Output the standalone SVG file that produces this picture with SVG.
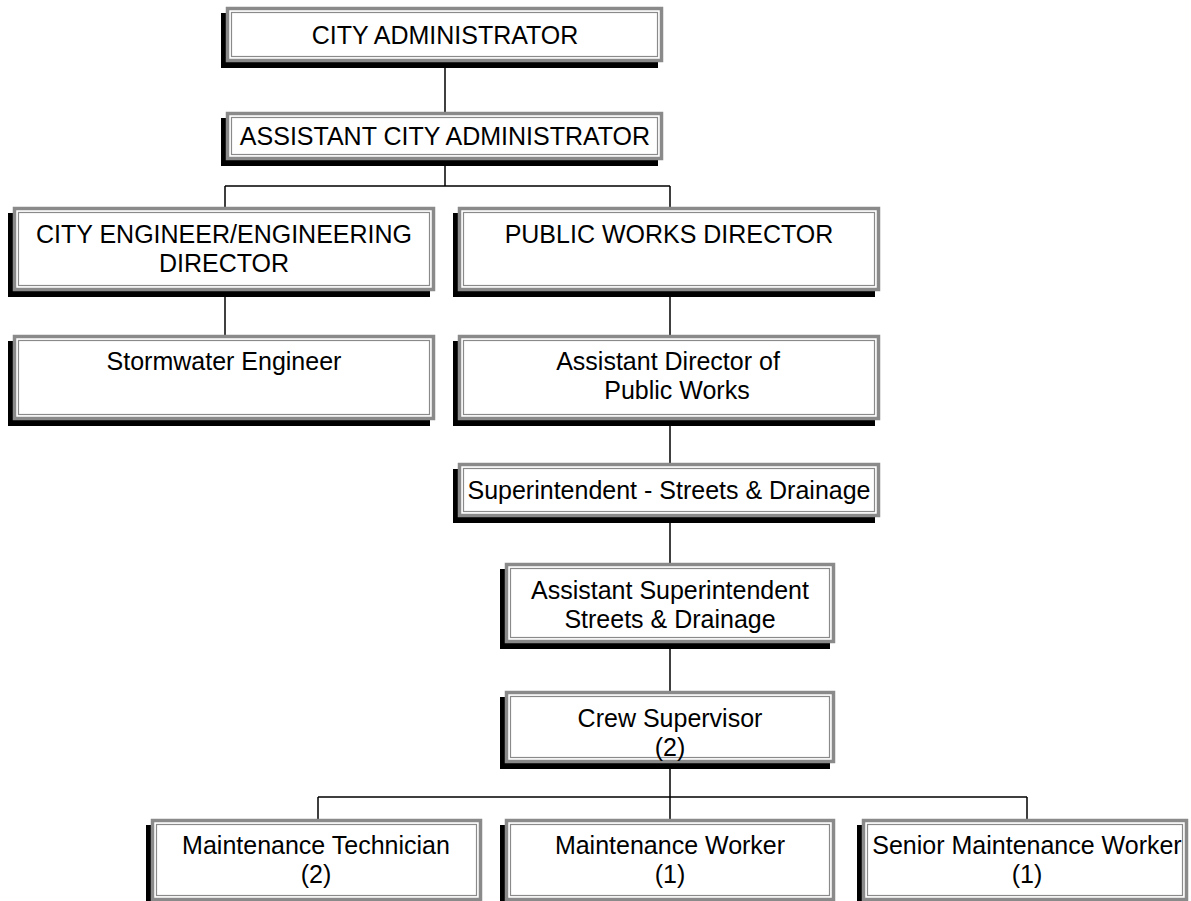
<svg xmlns="http://www.w3.org/2000/svg" width="1191" height="901" viewBox="0 0 1191 901">
  <defs>
    <style>
      .shadow { fill: #000000; }
      .frame { fill: #ffffff; stroke: #8a8a8a; stroke-width: 3.5; }
      .inner { fill: none; stroke: #8a8a8a; stroke-width: 1.2; }
      .label { font-family: "Liberation Sans", Arial, sans-serif; font-size: 25px; fill: #000000; text-anchor: middle; }
      .link { fill: none; stroke: #000000; stroke-width: 1.5; }
    </style>
  </defs>
  <rect x="0" y="0" width="1191" height="901" fill="#ffffff"/>

  <!-- reporting lines -->
  <g id="connectors">
    <path class="link" d="M445 62 V112"/>
    <path class="link" d="M445 160 V186 M225 186 H670 M225 186 V207 M670 186 V207"/>
    <path class="link" d="M225 291 V335"/>
    <path class="link" d="M670 291 V335"/>
    <path class="link" d="M670 420 V463"/>
    <path class="link" d="M670 517 V563"/>
    <path class="link" d="M670 643 V691"/>
    <path class="link" d="M670 763 V797 M318 797 H1027 M318 797 V819 M670 797 V819 M1027 797 V819"/>
  </g>

  <!-- each box: drop shadow, outer frame, inner rule -->
  <g id="city-administrator">
    <rect class="shadow" x="221" y="13" width="437" height="55"/>
    <rect class="frame" x="227.5" y="8.5" width="434" height="52"/>
    <rect class="inner" x="231.5" y="12.5" width="426" height="44"/>
    <text class="label" x="445" y="44">CITY ADMINISTRATOR</text>
  </g>

  <g id="assistant-city-administrator">
    <rect class="shadow" x="221" y="118" width="437" height="48"/>
    <rect class="frame" x="227.5" y="113.5" width="434" height="45"/>
    <rect class="inner" x="231.5" y="117.5" width="426" height="37"/>
    <text class="label" x="445" y="145">ASSISTANT CITY ADMINISTRATOR</text>
  </g>

  <g id="city-engineer">
    <rect class="shadow" x="8" y="213" width="422" height="84"/>
    <rect class="frame" x="14.5" y="208.5" width="419" height="81"/>
    <rect class="inner" x="18.5" y="212.5" width="411" height="73"/>
    <text class="label" x="224" y="243">CITY ENGINEER/ENGINEERING</text>
    <text class="label" x="224" y="272">DIRECTOR</text>
  </g>

  <g id="public-works-director">
    <rect class="shadow" x="453" y="213" width="422" height="84"/>
    <rect class="frame" x="459.5" y="208.5" width="419" height="81"/>
    <rect class="inner" x="463.5" y="212.5" width="411" height="73"/>
    <text class="label" x="669" y="243">PUBLIC WORKS DIRECTOR</text>
  </g>

  <g id="stormwater-engineer">
    <rect class="shadow" x="8" y="341" width="422" height="85"/>
    <rect class="frame" x="14.5" y="336.5" width="419" height="82"/>
    <rect class="inner" x="18.5" y="340.5" width="411" height="74"/>
    <text class="label" x="224" y="370">Stormwater Engineer</text>
  </g>

  <g id="assistant-director-public-works">
    <rect class="shadow" x="453" y="341" width="422" height="85"/>
    <rect class="frame" x="459.5" y="336.5" width="419" height="82"/>
    <rect class="inner" x="463.5" y="340.5" width="411" height="74"/>
    <text class="label" x="668" y="370">Assistant Director of</text>
    <text class="label" x="677" y="399">Public Works</text>
  </g>

  <g id="superintendent-streets-drainage">
    <rect class="shadow" x="453" y="469" width="422" height="54"/>
    <rect class="frame" x="459.5" y="464.5" width="419" height="51"/>
    <rect class="inner" x="463.5" y="468.5" width="411" height="43"/>
    <text class="label" x="669" y="499">Superintendent - Streets &amp; Drainage</text>
  </g>

  <g id="assistant-superintendent">
    <rect class="shadow" x="500" y="569" width="330" height="80"/>
    <rect class="frame" x="506.5" y="564.5" width="327" height="77"/>
    <rect class="inner" x="510.5" y="568.5" width="319" height="69"/>
    <text class="label" x="670" y="599">Assistant Superintendent</text>
    <text class="label" x="670" y="628">Streets &amp; Drainage</text>
  </g>

  <g id="crew-supervisor">
    <rect class="shadow" x="500" y="697" width="330" height="72"/>
    <rect class="frame" x="506.5" y="692.5" width="327" height="69"/>
    <rect class="inner" x="510.5" y="696.5" width="319" height="61"/>
    <text class="label" x="670" y="727">Crew Supervisor</text>
    <text class="label" x="670" y="756">(2)</text>
  </g>

  <g id="maintenance-technician">
    <rect class="shadow" x="146" y="825" width="331" height="82"/>
    <rect class="frame" x="152.5" y="820.5" width="328" height="79"/>
    <rect class="inner" x="156.5" y="824.5" width="320" height="71"/>
    <text class="label" x="316" y="854">Maintenance Technician</text>
    <text class="label" x="316" y="883">(2)</text>
  </g>

  <g id="maintenance-worker">
    <rect class="shadow" x="500" y="825" width="330" height="82"/>
    <rect class="frame" x="506.5" y="820.5" width="327" height="79"/>
    <rect class="inner" x="510.5" y="824.5" width="319" height="71"/>
    <text class="label" x="670" y="854">Maintenance Worker</text>
    <text class="label" x="670" y="883">(1)</text>
  </g>

  <g id="senior-maintenance-worker">
    <rect class="shadow" x="857" y="825" width="326" height="82"/>
    <rect class="frame" x="863.5" y="820.5" width="323" height="79"/>
    <rect class="inner" x="867.5" y="824.5" width="315" height="71"/>
    <text class="label" x="1027" y="854">Senior Maintenance Worker</text>
    <text class="label" x="1027" y="883">(1)</text>
  </g>
</svg>
